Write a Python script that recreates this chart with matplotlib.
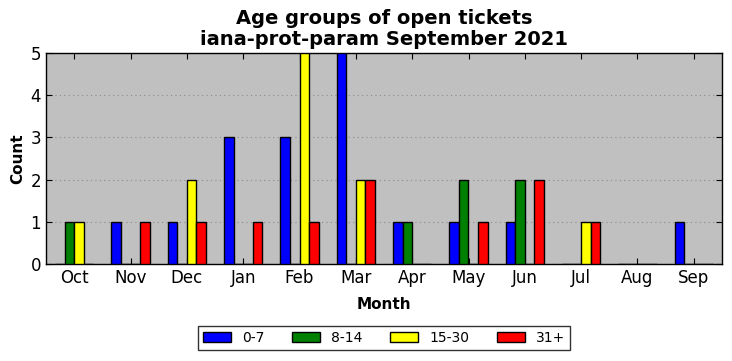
import matplotlib
matplotlib.use("Agg")
import matplotlib.pyplot as plt
import numpy as np

months = ["Oct", "Nov", "Dec", "Jan", "Feb", "Mar", "Apr", "May", "Jun", "Jul", "Aug", "Sep"]
age_0_7 = [0, 1, 1, 3, 3, 5, 1, 1, 1, 0, 0, 1]
age_8_14 = [1, 0, 0, 0, 0, 0, 1, 2, 2, 0, 0, 0]
age_15_30 = [1, 0, 2, 0, 5, 2, 0, 0, 0, 1, 0, 0]
age_31 = [0, 1, 1, 1, 1, 2, 0, 1, 2, 1, 0, 0]
series = [("0-7", age_0_7, "blue"), ("8-14", age_8_14, "green"),
          ("15-30", age_15_30, "yellow"), ("31+", age_31, "red")]

fig = plt.figure(figsize=(7.32, 3.61), dpi=100)
ax = fig.add_axes([46/732, 1-264/361, (722-46)/732, (264-53)/361])
ax.set_facecolor("#c0c0c0")
x = np.arange(len(months))
w = 0.17
for i, (lab, vals, col) in enumerate(series):
    ax.bar(x + (i - 2) * w, vals, width=w, align="edge", color=col,
           edgecolor="black", linewidth=1, label=lab, zorder=3)
ax.set_xlim(-0.5, 11.5)
ax.set_ylim(0, 5)
ax.set_xticks(x)
ax.set_xticklabels(months, fontsize=12)
ax.set_yticks(range(6))
ax.tick_params(axis="y", labelsize=12)
ax.tick_params(direction="in", top=True, right=True, length=4)
ax.yaxis.grid(True, linestyle=(0, (1, 3)), color="#8a8a8a", linewidth=0.8, zorder=0)
ax.set_axisbelow(True)
ax.set_xlabel("Month", fontsize=11, fontweight="bold", labelpad=7)
ax.set_ylabel("Count", fontsize=11, fontweight="bold")
ax.set_title("Age groups of open tickets\niana-prot-param September 2021",
             fontsize=14, fontweight="bold", linespacing=1.1)
for s in ax.spines.values():
    s.set_linewidth(1)
leg = fig.legend(loc="center", bbox_to_anchor=(384/732, 1-338/361), ncol=4,
                 fontsize=10, frameon=True, fancybox=False, edgecolor="black",
                 handlelength=2.0, handletextpad=0.8, columnspacing=2.0,
                 borderpad=0.35)
leg.get_frame().set_linewidth(1)
fig.savefig("out.png", dpi=100)
